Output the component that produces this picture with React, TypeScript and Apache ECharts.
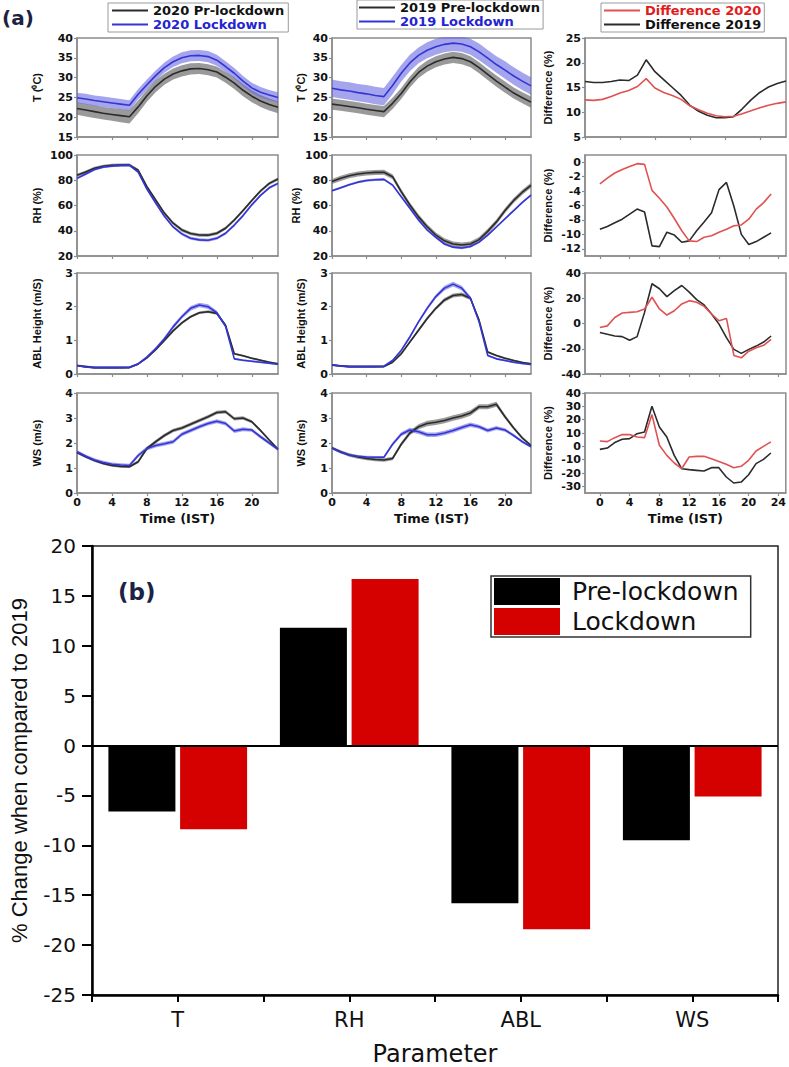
import { useEffect, useRef } from "react";
import * as echarts from "echarts";

// ---------------- data ----------------
const hours = [0, 1, 2, 3, 4, 5, 6, 7, 8, 9, 10, 11, 12, 13, 14, 15, 16, 17, 18, 19, 20, 21, 22, 23];
const hourTicks = [0, 4, 8, 12, 16, 20, 24];
const diffRhTicks = [-12, -10, -8, -6, -4, -2, 0];
const diffWsTicks = [-30, -20, -10, 0, 10, 20, 30, 40];

// 2020
const tPre20 = [22.2, 21.8, 21.4, 21.0, 20.7, 20.4, 20.1, 22.6, 25.4, 27.8, 29.6, 30.9, 31.7, 32.2, 32.3, 32.0, 31.4, 30.1, 28.6, 26.8, 25.3, 24.1, 23.2, 22.5];
const tPre20Sd = [1.6, 1.6, 1.6, 1.6, 1.6, 1.7, 1.7, 1.6, 1.5, 1.5, 1.4, 1.4, 1.4, 1.4, 1.4, 1.4, 1.4, 1.4, 1.5, 1.5, 1.5, 1.5, 1.5, 1.5];
const tLd20 = [24.9, 24.6, 24.2, 23.9, 23.6, 23.3, 23.0, 25.8, 28.2, 30.5, 32.5, 34.0, 35.0, 35.5, 35.6, 35.3, 34.4, 32.8, 31.1, 29.1, 27.4, 26.3, 25.6, 25.0];
const tLd20Sd = [1.3, 1.3, 1.3, 1.3, 1.3, 1.3, 1.3, 1.3, 1.3, 1.3, 1.3, 1.3, 1.4, 1.4, 1.4, 1.4, 1.4, 1.3, 1.3, 1.3, 1.3, 1.3, 1.3, 1.3];
const rhPre20 = [84.0, 86.5, 89.5, 91.0, 91.8, 92.0, 92.0, 88.0, 75.0, 64.4, 54.0, 46.0, 40.6, 37.8, 36.6, 36.5, 38.0, 42.0, 48.5, 56.0, 64.0, 71.5, 77.5, 81.0];
const rhPre20Sd = [1.2, 1.2, 1.2, 1.2, 1.2, 1.2, 1.2, 1.2, 1.3, 1.3, 1.3, 1.3, 1.3, 1.3, 1.3, 1.3, 1.3, 1.3, 1.3, 1.3, 1.2, 1.2, 1.2, 1.2];
const rhLd20 = [81.5, 85.0, 88.5, 90.5, 91.3, 91.8, 92.0, 86.5, 73.0, 62.0, 51.5, 43.0, 37.5, 34.0, 32.8, 32.5, 34.0, 38.0, 44.5, 52.0, 60.5, 68.0, 74.0, 77.5];
const rhLd20Sd = [1.0, 1.0, 1.0, 1.0, 1.0, 1.0, 1.0, 1.0, 1.1, 1.1, 1.1, 1.1, 1.2, 1.2, 1.2, 1.2, 1.2, 1.1, 1.1, 1.1, 1.0, 1.0, 1.0, 1.0];
const ablPre20 = [0.25, 0.22, 0.19, 0.19, 0.19, 0.19, 0.19, 0.3, 0.48, 0.72, 1.0, 1.28, 1.52, 1.7, 1.82, 1.85, 1.8, 1.45, 0.6, 0.54, 0.47, 0.41, 0.35, 0.3];
const ablPre20Sd = [0.03, 0.03, 0.03, 0.03, 0.03, 0.03, 0.03, 0.03, 0.03, 0.04, 0.04, 0.04, 0.04, 0.04, 0.04, 0.04, 0.04, 0.04, 0.03, 0.03, 0.03, 0.03, 0.03, 0.03];
const ablLd20 = [0.25, 0.21, 0.19, 0.19, 0.19, 0.19, 0.2, 0.3, 0.5, 0.75, 1.05, 1.4, 1.7, 1.95, 2.05, 2.0, 1.82, 1.42, 0.45, 0.41, 0.38, 0.35, 0.32, 0.29];
const ablLd20Sd = [0.03, 0.03, 0.03, 0.03, 0.03, 0.03, 0.03, 0.03, 0.04, 0.05, 0.05, 0.06, 0.06, 0.07, 0.07, 0.07, 0.06, 0.05, 0.03, 0.03, 0.03, 0.03, 0.03, 0.03];
const wsPre20 = [1.62, 1.45, 1.3, 1.18, 1.1, 1.06, 1.05, 1.25, 1.78, 2.05, 2.3, 2.5, 2.6, 2.75, 2.9, 3.05, 3.22, 3.25, 2.97, 3.0, 2.85, 2.5, 2.12, 1.75];
const wsPre20Sd = [0.05, 0.05, 0.05, 0.05, 0.05, 0.05, 0.05, 0.06, 0.07, 0.07, 0.07, 0.07, 0.07, 0.07, 0.07, 0.07, 0.07, 0.07, 0.07, 0.07, 0.06, 0.06, 0.05, 0.05];
const wsLd20 = [1.65, 1.47, 1.32, 1.22, 1.15, 1.12, 1.1, 1.5, 1.78, 1.9, 1.97, 2.05, 2.35, 2.5, 2.65, 2.78, 2.87, 2.78, 2.48, 2.55, 2.52, 2.25, 2.0, 1.75];
const wsLd20Sd = [0.07, 0.07, 0.07, 0.07, 0.07, 0.07, 0.07, 0.08, 0.08, 0.08, 0.08, 0.08, 0.08, 0.08, 0.08, 0.08, 0.08, 0.08, 0.08, 0.08, 0.07, 0.07, 0.07, 0.07];

// 2019
const tPre19 = [23.3, 23.0, 22.7, 22.4, 22.0, 21.7, 21.4, 23.5, 26.0, 28.9, 31.3, 32.9, 34.0, 34.7, 35.1, 34.8, 34.0, 32.5, 30.8, 29.1, 27.6, 26.1, 24.9, 23.8];
const tPre19Sd = [1.4, 1.4, 1.4, 1.4, 1.4, 1.4, 1.4, 1.4, 1.4, 1.4, 1.4, 1.4, 1.4, 1.4, 1.4, 1.4, 1.4, 1.4, 1.4, 1.4, 1.4, 1.4, 1.4, 1.4];
const tLd19 = [27.3, 26.9, 26.6, 26.2, 25.9, 25.5, 25.2, 28.0, 31.1, 33.7, 35.6, 36.9, 37.8, 38.4, 38.7, 38.5, 37.8, 36.5, 34.9, 33.3, 31.9, 30.4, 29.1, 27.9];
const tLd19Sd = [2.2, 2.2, 2.2, 2.2, 2.2, 2.2, 2.2, 2.2, 2.1, 2.1, 2.0, 2.0, 2.0, 2.0, 2.0, 2.0, 2.0, 2.1, 2.1, 2.1, 2.2, 2.2, 2.2, 2.2];
const rhPre19 = [79.0, 81.5, 83.5, 85.0, 85.8, 86.2, 86.3, 82.8, 71.0, 60.4, 51.0, 43.2, 36.6, 32.0, 29.5, 28.7, 29.5, 33.0, 39.5, 47.0, 56.0, 64.0, 70.5, 76.0];
const rhPre19Sd = [2.0, 2.0, 2.0, 2.0, 2.0, 2.0, 2.0, 2.0, 2.0, 2.0, 2.0, 2.0, 2.0, 2.0, 2.0, 2.0, 2.0, 2.0, 2.0, 2.0, 2.0, 2.0, 2.0, 2.0];
const rhLd19 = [71.7, 74.0, 76.5, 78.5, 79.8, 80.4, 80.7, 76.2, 67.0, 57.8, 48.5, 40.6, 34.8, 29.5, 27.0, 26.3, 27.5, 31.0, 36.5, 43.0, 49.5, 56.0, 62.5, 68.3];
const rhLd19Sd = [0.9, 0.9, 0.9, 0.9, 0.9, 0.9, 0.9, 0.9, 0.9, 0.9, 0.9, 0.9, 0.9, 0.9, 0.9, 0.9, 0.9, 0.9, 0.9, 0.9, 0.9, 0.9, 0.9, 0.9];
const ablPre19 = [0.27, 0.24, 0.22, 0.22, 0.22, 0.22, 0.22, 0.35, 0.6, 0.95, 1.3, 1.65, 1.95, 2.2, 2.33, 2.36, 2.25, 1.6, 0.65, 0.55, 0.47, 0.4, 0.34, 0.3];
const ablPre19Sd = [0.03, 0.03, 0.03, 0.03, 0.03, 0.03, 0.03, 0.03, 0.04, 0.04, 0.05, 0.05, 0.05, 0.06, 0.06, 0.06, 0.05, 0.05, 0.03, 0.03, 0.03, 0.03, 0.03, 0.03];
const ablLd19 = [0.27, 0.24, 0.22, 0.22, 0.22, 0.22, 0.23, 0.4, 0.7, 1.1, 1.55, 1.95, 2.3, 2.55, 2.67, 2.55, 2.25, 1.55, 0.55, 0.45, 0.4, 0.35, 0.31, 0.28];
const ablLd19Sd = [0.03, 0.03, 0.03, 0.03, 0.03, 0.03, 0.03, 0.03, 0.04, 0.05, 0.05, 0.06, 0.06, 0.07, 0.07, 0.07, 0.06, 0.05, 0.03, 0.03, 0.03, 0.03, 0.03, 0.03];
const wsPre19 = [1.8, 1.65, 1.52, 1.44, 1.38, 1.34, 1.32, 1.38, 1.95, 2.4, 2.65, 2.78, 2.83, 2.9, 3.0, 3.08, 3.2, 3.45, 3.45, 3.55, 3.05, 2.6, 2.2, 1.9];
const wsPre19Sd = [0.06, 0.06, 0.07, 0.07, 0.07, 0.07, 0.07, 0.07, 0.08, 0.09, 0.1, 0.11, 0.11, 0.11, 0.11, 0.11, 0.11, 0.1, 0.1, 0.1, 0.08, 0.07, 0.06, 0.06];
const wsLd19 = [1.8, 1.63, 1.52, 1.47, 1.44, 1.43, 1.43, 1.95, 2.35, 2.52, 2.45, 2.33, 2.33, 2.4, 2.5, 2.62, 2.73, 2.65, 2.5, 2.6, 2.52, 2.3, 2.05, 1.85];
const wsLd19Sd = [0.05, 0.05, 0.05, 0.05, 0.05, 0.05, 0.05, 0.07, 0.08, 0.09, 0.09, 0.09, 0.09, 0.09, 0.09, 0.09, 0.09, 0.08, 0.08, 0.08, 0.07, 0.06, 0.05, 0.05];

// differences (%)
const dT20 = [12.5, 12.4, 12.6, 13.2, 13.9, 14.4, 15.2, 16.8, 14.9, 14.0, 13.4, 12.6, 11.3, 10.5, 9.8, 9.3, 9.1, 9.2, 9.7, 10.3, 10.9, 11.4, 11.8, 12.1];
const dT19 = [16.2, 16.0, 16.0, 16.2, 16.5, 16.4, 17.5, 20.6, 18.2, 16.6, 15.0, 13.4, 11.4, 10.2, 9.4, 8.9, 8.9, 9.1, 10.7, 12.5, 14.0, 15.1, 15.8, 16.3];
const dRh20 = [-3.0, -2.2, -1.5, -1.0, -0.6, -0.2, -0.3, -3.9, -5.0, -6.2, -7.8, -9.5, -10.9, -11.0, -10.4, -10.2, -9.7, -9.3, -8.8, -8.7, -7.9, -6.5, -5.6, -4.4];
const dRh19 = [-9.3, -8.9, -8.4, -7.9, -7.2, -6.5, -6.9, -11.6, -11.7, -9.7, -10.1, -11.1, -10.9, -9.5, -8.3, -7.0, -3.8, -2.8, -6.1, -10.0, -11.4, -11.0, -10.4, -9.8];
const dAbl20 = [-3.2, -1.9, 4.8, 8.3, 8.8, 9.3, 11.5, 20.8, 11.5, 6.7, 10.1, 15.5, 18.1, 16.8, 13.6, 7.5, 2.1, 4.0, -25.3, -27.2, -21.9, -19.2, -17.3, -12.5];
const dAbl19 = [-7.2, -8.5, -9.9, -10.4, -13.3, -10.4, 8.8, 31.5, 27.5, 21.3, 26.1, 30.1, 24.8, 18.9, 14.7, 7.5, -0.5, -11.2, -20.5, -23.7, -20.5, -17.9, -14.7, -9.9];
const dWs20 = [4.0, 3.5, 6.5, 8.8, 8.8, 7.0, 6.5, 23.8, 0.8, -6.8, -12.5, -16.8, -8.0, -7.5, -7.5, -9.3, -11.3, -13.5, -16.0, -15.0, -10.5, -3.5, 0.0, 3.3];
const dWs19 = [-2.3, -1.3, 2.8, 5.3, 5.8, 9.5, 10.8, 30.0, 14.5, 7.0, -6.8, -16.8, -17.5, -18.0, -18.5, -16.0, -16.0, -23.0, -27.5, -26.8, -21.3, -13.0, -9.8, -5.0];

// panel (b)
const params = ["T", "RH", "ABL", "WS"];
const preChange = [-6.6, 11.8, -15.8, -9.5];
const ldChange = [-8.4, 16.7, -18.4, -5.1];

// ---------------- layout / style ----------------
const FB = "'DejaVu Sans', sans-serif";
const FA = "'Liberation Sans', Arial, sans-serif";
const GRAY = "#8c8c8c";
const BLACK_LINE = "#2b2b2b";
const BLUE_LINE = "#3535d5";
const RED_LINE = "#e05252";
const GRAY_BAND = "rgba(115,115,115,0.72)";
const BLUE_BAND = "rgba(105,105,225,0.6)";

const GX = [77, 332, 585];
const GW = [201, 199, 201];
const GY = [38, 155, 273, 393];
const GH = [99, 101, 101, 100];
const NAME_GAP = [35, 25.5, 31.5];

const leftPanels = [
  { name: "T (⁰C)", min: 15, max: 40, interval: 5 },
  { name: "RH (%)", min: 20, max: 100, interval: 20 },
  { name: "ABL Height (m/S)", min: 0, max: 3, interval: 1 },
  { name: "WS (m/s)", min: 0, max: 4, interval: 1 },
];

const colData = [
  [
    [tPre20, tPre20Sd, tLd20, tLd20Sd],
    [rhPre20, rhPre20Sd, rhLd20, rhLd20Sd],
    [ablPre20, ablPre20Sd, ablLd20, ablLd20Sd],
    [wsPre20, wsPre20Sd, wsLd20, wsLd20Sd],
  ],
  [
    [tPre19, tPre19Sd, tLd19, tLd19Sd],
    [rhPre19, rhPre19Sd, rhLd19, rhLd19Sd],
    [ablPre19, ablPre19Sd, ablLd19, ablLd19Sd],
    [wsPre19, wsPre19Sd, wsLd19, wsLd19Sd],
  ],
];
const colNames = [
  ["2020 Pr-lockdown", "2020 Lockdown"],
  ["2019 Pre-lockdown", "2019 Lockdown"],
];

const diffPanels: any[] = [
  { min: 5, max: 25, interval: 5, d20: dT20, d19: dT19 },
  { min: -13, max: 1, ticks: diffRhTicks, d20: dRh20, d19: dRh19 },
  { min: -40, max: 40, interval: 20, d20: dAbl20, d19: dAbl19 },
  { min: -35, max: 40, ticks: diffWsTicks, d20: dWs20, d19: dWs19 },
];

const tickLabel = { fontFamily: FB, fontWeight: "bold" as const, fontSize: 11, color: "#111" };
const timeName = { fontFamily: FB, fontWeight: "bold" as const, fontSize: 13, color: "#111" };

function buildOption() {
  const grid: any[] = [];
  const xAxis: any[] = [];
  const yAxis: any[] = [];
  const series: any[] = [];
  const hourCats = hours.map(String);

  for (let r = 0; r < 4; r++) {
    for (let c = 0; c < 3; c++) {
      const idx = r * 3 + c;
      grid.push({
        left: GX[c], top: GY[r], width: GW[c], height: GH[r],
        show: true, borderColor: GRAY, borderWidth: 1.5, backgroundColor: "transparent",
      });
      const useCat = c < 2 || r === 0;
      if (useCat) {
        xAxis.push({
          type: "category", gridIndex: idx, data: hourCats, boundaryGap: false,
          axisLine: { onZero: false, lineStyle: { color: GRAY, width: 1.5 } },
          axisTick: { interval: 3, length: 3, lineStyle: { color: GRAY, width: 1.2 } },
          axisLabel: { show: r === 3, interval: 3, margin: 4, ...tickLabel },
          splitLine: { show: false },
          name: r === 3 ? "Time (IST)" : "", nameLocation: "middle", nameGap: 18.5, nameTextStyle: timeName,
        });
      } else {
        xAxis.push({
          type: "value", gridIndex: idx, min: -2, max: 25,
          axisLine: { onZero: false, lineStyle: { color: GRAY, width: 1.5 } },
          axisTick: { customValues: hourTicks, length: 3, lineStyle: { color: GRAY, width: 1.2 } },
          axisLabel: { show: r === 3, customValues: hourTicks, margin: 4, ...tickLabel },
          splitLine: { show: false },
          name: r === 3 ? "Time (IST)" : "", nameLocation: "middle", nameGap: 18.5, nameTextStyle: timeName,
        });
      }
      const spec: any = c < 2 ? leftPanels[r] : diffPanels[r];
      const yName = c < 2 ? leftPanels[r].name : "Difference (%)";
      const y: any = {
        type: "value", gridIndex: idx, min: spec.min, max: spec.max,
        name: yName, nameLocation: "middle", nameGap: NAME_GAP[c], nameRotate: 90,
        nameTextStyle: { fontFamily: FA, fontWeight: "bold", fontSize: 11, color: "#111" },
        axisLine: { show: true, onZero: false, lineStyle: { color: GRAY, width: 1.5 } },
        axisTick: { show: true, length: 3, lineStyle: { color: GRAY, width: 1.2 } },
        axisLabel: { margin: 4, hideOverlap: false, showMinLabel: true, showMaxLabel: true, ...tickLabel },
        splitLine: { show: false },
      };
      if (spec.ticks) {
        y.axisTick.customValues = spec.ticks;
        y.axisLabel.customValues = spec.ticks;
      } else {
        y.interval = spec.interval;
      }
      yAxis.push(y);

      if (c < 2) {
        const [pre, preSd, ld, ldSd] = colData[c][r];
        const bands: [number[], number[], string][] = [
          [pre, preSd, GRAY_BAND],
          [ld, ldSd, BLUE_BAND],
        ];
        bands.forEach(([vals, sd, color], k) => {
          const stackId = `band-${idx}-${k}`;
          series.push({
            type: "line", xAxisIndex: idx, yAxisIndex: idx, stack: stackId, silent: true,
            data: vals.map((v, i) => +(v - sd[i]).toFixed(3)), symbol: "none",
            lineStyle: { opacity: 0 }, z: 1,
          });
          series.push({
            type: "line", xAxisIndex: idx, yAxisIndex: idx, stack: stackId, silent: true,
            data: sd.map((s) => +(2 * s).toFixed(3)), symbol: "none",
            lineStyle: { opacity: 0 }, areaStyle: { color, opacity: 1 }, z: 1,
          });
        });
        series.push({
          type: "line", name: colNames[c][0], xAxisIndex: idx, yAxisIndex: idx, data: pre,
          symbol: "none", silent: true, z: 3,
          lineStyle: { color: BLACK_LINE, width: 1.6 }, itemStyle: { color: BLACK_LINE },
        });
        series.push({
          type: "line", name: colNames[c][1], xAxisIndex: idx, yAxisIndex: idx, data: ld,
          symbol: "none", silent: true, z: 3,
          lineStyle: { color: BLUE_LINE, width: 1.6 }, itemStyle: { color: BLUE_LINE },
        });
      } else {
        const mk = (vals: number[]) => (useCat ? vals : hours.map((h, i) => [h, vals[i]]));
        series.push({
          type: "line", name: "Difference 2019", xAxisIndex: idx, yAxisIndex: idx, data: mk(spec.d19),
          symbol: "none", silent: true, z: 3,
          lineStyle: { color: BLACK_LINE, width: 1.6 }, itemStyle: { color: BLACK_LINE },
        });
        series.push({
          type: "line", name: "Difference 2020", xAxisIndex: idx, yAxisIndex: idx, data: mk(spec.d20),
          symbol: "none", silent: true, z: 3,
          lineStyle: { color: RED_LINE, width: 1.6 }, itemStyle: { color: RED_LINE },
        });
      }
    }
  }

  // ---- panel (b) ----
  const B = 12;
  grid.push({ left: 88, top: 546, width: 690, height: 451, show: true, borderColor: "#222", borderWidth: 1.5 });
  xAxis.push({
    type: "category", gridIndex: B, data: params, position: "bottom",
    axisLine: { onZero: false, lineStyle: { color: "#000", width: 2.5 } },
    axisTick: { show: false },
    axisLabel: { fontFamily: FB, fontSize: 21, color: "#111", margin: 14 },
    name: "Parameter", nameLocation: "middle", nameGap: 47,
    nameTextStyle: { fontFamily: FB, fontSize: 24, color: "#111" },
  });
  xAxis.push({
    type: "value", gridIndex: B, position: "bottom", min: 0, max: 8, interval: 1,
    axisLine: { show: false, onZero: false },
    axisTick: { show: true, length: 7, lineStyle: { color: "#000", width: 2 } },
    axisLabel: { show: false }, splitLine: { show: false },
  });
  yAxis.push({
    type: "value", gridIndex: B, min: -25, max: 20, interval: 5,
    axisLine: { show: true, onZero: false, lineStyle: { color: "#000", width: 2.5 } },
    axisTick: { show: true, length: 10, lineStyle: { color: "#000", width: 2 } },
    axisLabel: { fontFamily: FB, fontSize: 20, color: "#111", margin: 16 },
    splitLine: { show: false },
    name: "% Change when compared to 2019", nameLocation: "middle", nameGap: 62, nameRotate: 90,
    nameTextStyle: { fontFamily: FA, fontSize: 22, color: "#111" },
  });
  series.push({
    type: "bar", name: "Pre-lockdown", xAxisIndex: B, yAxisIndex: B, data: preChange,
    barWidth: 67, barGap: "7%", itemStyle: { color: "#000" }, silent: true,
    markLine: {
      silent: true, symbol: ["none", "none"], label: { show: false },
      lineStyle: { color: "#000", width: 2, type: "solid" }, data: [{ yAxis: 0 }],
    },
  });
  series.push({
    type: "bar", name: "Lockdown", xAxisIndex: B, yAxisIndex: B, data: ldChange,
    barWidth: 67, barGap: "7%", itemStyle: { color: "#d50000" }, silent: true,
  });

  const topLegend = (left: number, top: number, pad: number[], data: any[]) => ({
    selectedMode: false, orient: "vertical", left, top, padding: pad, itemGap: 1,
    itemWidth: 36, itemHeight: 2, icon: "rect", borderColor: "#9a9a9a", borderWidth: 1,
    textStyle: { fontFamily: FB, fontWeight: "bold", fontSize: 13, lineHeight: 13 }, data,
  });

  return {
    animation: false,
    backgroundColor: "#fff",
    grid, xAxis, yAxis, series,
    legend: [
      topLegend(108, 3, [1, 4, 1, 4], [
        { name: "2020 Pr-lockdown", textStyle: { color: "#111" } },
        { name: "2020 Lockdown", textStyle: { color: "#2424d0" } },
      ]),
      topLegend(357, 0, [1, 3, 1, 2], [
        { name: "2019 Pre-lockdown", textStyle: { color: "#111" } },
        { name: "2019 Lockdown", textStyle: { color: "#2424d0" } },
      ]),
      topLegend(601, 3, [1, 3, 1, 3], [
        { name: "Difference 2020", textStyle: { color: "#e01b1b" } },
        { name: "Difference 2019", textStyle: { color: "#111" } },
      ]),
      {
        selectedMode: false, orient: "vertical", left: 491, top: 576, padding: [2, 12, 2, 3],
        itemGap: 3, itemWidth: 66, itemHeight: 27, icon: "rect",
        borderColor: "#333", borderWidth: 1.5,
        textStyle: { fontFamily: FB, fontSize: 25, color: "#111", padding: [0, 0, 0, 7] },
        data: ["Pre-lockdown", "Lockdown"],
      },
    ],
    graphic: [
      { type: "text", left: 2, top: 8, style: { text: "(a)", fontFamily: FB, fontWeight: "bold", fontSize: 20, fill: "#1c2244" } },
      { type: "text", left: 118, top: 580, style: { text: "(b)", fontFamily: FB, fontWeight: "bold", fontSize: 23, fill: "#1c2244" } },
    ],
  };
}

export default function App() {
  const ref = useRef<HTMLDivElement>(null);
  useEffect(() => {
    document.body.style.margin = "0";
    const chart = echarts.init(ref.current!, null, { renderer: "svg" });
    chart.setOption(buildOption() as any);
    return () => chart.dispose();
  }, []);
  return <div ref={ref} style={{ width: 789, height: 1067, background: "#fff" }} />;
}
